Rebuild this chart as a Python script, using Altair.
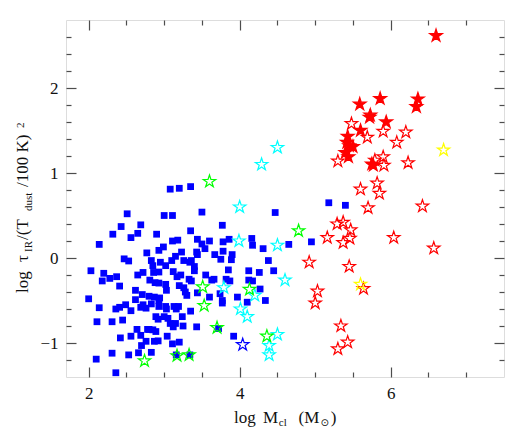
import altair as alt
import pandas as pd

# ---------------- data ----------------
sq_x = [3.08, 3.20, 3.35, 2.51, 3.00, 3.11, 3.50, 4.47, 2.43, 2.69, 2.32, 2.65, 2.56, 2.90, 2.14,
        3.35, 3.77, 3.11, 3.18, 3.44, 3.50, 3.60, 3.54, 3.78, 3.86, 4.16, 4.17, 4.31, 4.65, 2.93,
        2.99, 2.77, 3.23, 3.43, 3.44, 3.67, 3.78, 3.90, 3.89, 3.75, 2.47, 2.53, 2.83, 2.95, 2.85,
        3.10, 3.15, 3.26, 3.34, 3.36, 3.40, 3.40, 3.55, 3.63, 3.66, 3.85, 3.82, 3.87, 4.12, 4.26,
        4.45, 2.03, 2.20, 2.18, 2.28, 2.37, 2.41, 2.65, 2.72, 2.86, 2.93, 2.81, 2.88, 2.93, 3.02,
        3.12, 3.17, 3.22, 3.33, 3.36, 3.20, 3.26, 3.28, 3.30, 3.44, 3.60, 3.74, 3.77, 3.77, 3.97,
        4.10, 4.34, 4.27, 4.12, 4.17, 2.62, 2.62, 2.71, 2.80, 2.87, 2.94, 3.03, 2.93, 2.83, 2.69,
        2.72, 2.76, 2.93, 3.02, 3.03, 3.13, 3.16, 3.19, 3.35, 3.24, 3.05, 3.00, 2.92, 2.89, 2.56,
        2.45, 2.36, 2.41, 2.49, 2.31, 2.11, 2.14, 2.00, 2.64, 2.69, 2.78, 2.80, 2.85, 2.89, 3.08,
        3.15, 3.12, 3.25, 3.43, 3.04, 2.76, 2.87, 2.92, 2.70, 2.56, 2.42, 3.11, 3.20, 3.92, 3.72,
        2.66, 2.83, 2.53, 2.31, 2.10, 2.36, 3.16, 3.34, 4.38, 3.02, 4.95, 5.18, 5.40]
sq_y = [0.81, 0.82, 0.84, 0.52, 0.50, 0.50, 0.54, 0.535, 0.37, 0.39, 0.28, 0.29, 0.24, 0.28, 0.16,
        0.32, 0.385, 0.20, 0.21, 0.22, 0.165, 0.20, 0.11, 0.19, 0.22, 0.23, 0.15, 0.11, 0.16, 0.09,
        0.13, 0.06, 0.07, 0.07, 0.04, 0.04, 0.08, 0.04, -0.02, -0.015, -0.01, -0.035, -0.03, -0.05, -0.09,
        -0.03, 0.02, -0.03, -0.05, -0.03, -0.10, -0.15, -0.20, -0.26, -0.25, -0.14, -0.25, -0.27, -0.15, -0.17,
        -0.15, -0.15, -0.18, -0.27, -0.24, -0.22, -0.33, -0.20, -0.17, -0.17, -0.165, -0.26, -0.29, -0.295, -0.31,
        -0.16, -0.22, -0.20, -0.25, -0.27, -0.325, -0.35, -0.40, -0.44, -0.41, -0.46, -0.42, -0.50, -0.53, -0.46,
        -0.52, -0.50, -0.365, -0.26, -0.27, -0.38, -0.49, -0.43, -0.45, -0.46, -0.47, -0.38, -0.50, -0.54, -0.58,
        -0.55, -0.59, -0.57, -0.57, -0.60, -0.57, -0.60, -0.57, -0.625, -0.69, -0.71, -0.69, -0.72, -0.69, -0.62,
        -0.73, -0.60, -0.58, -0.55, -0.75, -0.75, -0.585, -0.48, -0.84, -0.91, -0.84, -0.84, -0.845, -0.865, -0.77,
        -0.77, -0.81, -0.80, -0.81, -0.92, -0.98, -0.98, -0.975, -1.03, -0.92, -0.94, -1.01, -0.99, -0.92, -0.83,
        -1.115, -1.11, -1.14, -1.12, -1.19, -1.35, -1.14, -1.14, -0.03, -0.09, 0.19, 0.65, 0.62]

green_x = [3.60, 4.78, 3.51, 3.53, 4.13, 3.70, 4.36, 2.74, 3.17, 3.33]
green_y = [0.90, 0.32, -0.34, -0.56, -0.37, -0.82, -0.92, -1.21, -1.15, -1.14]

cyan_x = [4.29, 4.50, 4.00, 3.99, 4.50, 4.60, 3.79, 4.20, 4.01, 4.10, 4.50, 4.39, 4.39]
cyan_y = [1.10, 1.30, 0.60, 0.20, 0.15, -0.26, -0.35, -0.44, -0.60, -0.69, -0.90, -1.03, -1.14]

bluestar_x = [4.04]
bluestar_y = [-1.02]

redopen_x = [5.48, 5.69, 5.90, 6.20, 6.08, 5.30, 5.90, 5.91, 5.79, 6.23, 5.60, 5.82, 5.85, 5.70, 6.42,
             5.29, 5.37, 5.47, 5.46, 5.37, 5.16, 6.04, 6.57, 4.92, 5.45, 5.64, 5.03, 5.00, 5.34, 5.43, 5.30]
redopen_y = [1.58, 1.42, 1.49, 1.48, 1.36, 1.14, 1.19, 1.09, 1.15, 1.12, 0.81, 0.88, 0.76, 0.59, 0.61,
             0.40, 0.42, 0.33, 0.23, 0.18, 0.24, 0.24, 0.115, -0.05, -0.10, -0.36, -0.39, -0.53, -0.80, -0.99, -1.07]

redfill_x = [6.60, 5.86, 5.59, 6.36, 6.34, 5.73, 5.72, 5.94, 5.60, 5.43, 5.42, 5.45, 5.50, 5.40, 5.44, 5.75, 5.77]
redfill_y = [2.615, 1.875, 1.81, 1.87, 1.78, 1.68, 1.655, 1.60, 1.50, 1.43, 1.36, 1.32, 1.31, 1.24, 1.19, 1.105, 1.09]

yellow_x = [6.70, 5.60]
yellow_y = [1.27, -0.31]

x_domain = [1.7, 7.5]
y_domain = [-1.4, 2.8]
x_major = [2, 4, 6]
x_minor = [2.5, 3, 3.5, 4.5, 5, 5.5, 6.5, 7]
y_major = [-1, 0, 1, 2]
y_minor = [-1.2, -0.8, -0.6, -0.4, -0.2, 0.2, 0.4, 0.6, 0.8, 1.2, 1.4, 1.6, 1.8, 2.2, 2.4, 2.6]

# ---------------- style ----------------
W, H = 438, 357
INK = "#4d4d4d"
TXT = "#111111"
FONT = "Liberation Serif"
STAR = ("M0,-1L0.2245,-0.309L0.951,-0.309L0.363,0.118L0.588,0.809L0,0.382"
        "L-0.588,0.809L-0.363,0.118L-0.951,-0.309L-0.2245,-0.309Z")


def xs():
    return alt.Scale(domain=x_domain, nice=False, zero=False)


def ys():
    return alt.Scale(domain=y_domain, nice=False, zero=False)


def ax(orient, values, size, labels=False):
    kw = dict(orient=orient, values=values, tickSize=size, offset=-size, domain=False,
              grid=False, labels=labels, ticks=True, title=None, tickColor=INK, tickWidth=1.2)
    if labels:
        kw.update(labelFont=FONT, labelFontSize=17, labelColor=TXT, labelPadding=8, format="d")
    return alt.Axis(**kw)


def pts(xv, yv, mark, xaxis=None, yaxis=None):
    df = pd.DataFrame({"x": xv, "y": yv})
    return alt.Chart(df).mark_point(**mark).encode(
        x=alt.X("x:Q", scale=xs(), axis=xaxis),
        y=alt.Y("y:Q", scale=ys(), axis=yaxis),
    )


sq_mark = dict(shape="square", filled=True, size=46, color="#0000ff", opacity=1)


def open_star(c):
    return dict(shape=STAR, filled=False, size=170, color=c, strokeWidth=1.2, opacity=1)


squares = pts(sq_x, sq_y, sq_mark, ax("bottom", x_major, 10, True), ax("left", y_major, 10, True))
red_open = pts(redopen_x, redopen_y, open_star("#ff0000"), ax("bottom", x_minor, 5), ax("left", y_minor, 5))
red_fill = pts(redfill_x, redfill_y,
               dict(shape=STAR, filled=True, size=170, color="#ff0000", stroke="#ff0000",
                    strokeWidth=1.3, opacity=1),
               ax("top", x_major, 10), ax("right", y_major, 10))
cyan = pts(cyan_x, cyan_y, open_star("#00ffff"), ax("top", x_minor, 5), ax("right", y_minor, 5))
green = pts(green_x, green_y, open_star("#00ff00"))
bluestar = pts(bluestar_x, bluestar_y, open_star("#0000ff"))
yellow = pts(yellow_x, yellow_y, open_star("#ffff00"))


def txt(s, x, y, size=17, angle=0, font=FONT):
    return alt.Chart(pd.DataFrame({"t": [s]})).mark_text(
        font=font, fontSize=size, align="left", baseline="alphabetic", color=TXT, angle=angle
    ).encode(x=alt.value(x), y=alt.value(y), text="t:N")


# x-axis title: log M_cl (M_sun)
xt = [
    txt("log", 168, 402.7),
    txt("M", 196.9, 402.7),
    txt("cl", 212.8, 406, 11),
    txt("(M", 232.5, 402.7),
    txt("\u2299", 254.5, 406, 10, font="DejaVu Sans"),
    txt(")", 264.7, 402.7),
]
# y-axis title: log tau_IR/(T_dust/100 K)^2  (rotated)
yt = [
    txt("log", -37.7, 273, 17, 270),
    txt("\u03c4", -37.7, 242, 17, 270),
    txt("IR", -33.7, 232, 11, 270),
    txt("/(T", -37.7, 220, 17, 270),
    txt("dust", -33.7, 191, 11, 270),
    txt("/100 K)", -37.7, 167, 17, 270),
    txt("2", -42, 108, 11, 270),
]

chart = alt.layer(
    squares, red_open, red_fill, cyan, green, bluestar, yellow, *xt, *yt
).resolve_scale(x="independent", y="independent").properties(
    width=W, height=H,
    autosize=alt.AutoSizeParams(type="none"),
    padding={"left": 58, "top": 12, "right": 20, "bottom": 50},
).configure_view(stroke=INK, strokeWidth=1.5).configure(background="white")

chart.save("out.html", embed_options={"renderer": "svg", "actions": False})
